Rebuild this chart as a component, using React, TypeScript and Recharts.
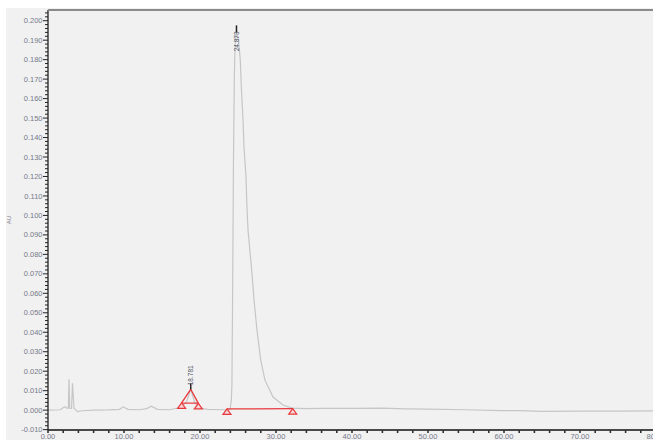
import React from 'react'
import { ComposedChart, Line, Scatter, XAxis, YAxis } from 'recharts'

// chromatogram trace, minutes vs AU
const trace = [
    { t: 0.0, au: 0.0 },
    { t: 1.6, au: 0.0002 },
    { t: 2.2, au: 0.0018 },
    { t: 2.5, au: 0.001 },
    { t: 2.68, au: 0.001 },
    { t: 2.76, au: 0.0158 },
    { t: 2.86, au: 0.001 },
    { t: 3.1, au: 0.0009 },
    { t: 3.22, au: 0.0138 },
    { t: 3.42, au: 0.001 },
    { t: 3.9, au: -0.0008 },
    { t: 4.5, au: -0.0003 },
    { t: 6.0, au: 0.0 },
    { t: 8.0, au: 0.0001 },
    { t: 9.4, au: 0.0004 },
    { t: 9.9, au: 0.0017 },
    { t: 10.5, au: 0.0004 },
    { t: 12.0, au: 0.0002 },
    { t: 13.0, au: 0.0008 },
    { t: 13.6, au: 0.002 },
    { t: 14.4, au: 0.0004 },
    { t: 16.0, au: 0.0002 },
    { t: 17.5, au: 0.0015 },
    { t: 18.2, au: 0.004 },
    { t: 18.78, au: 0.0107 },
    { t: 19.3, au: 0.004 },
    { t: 19.9, au: 0.0012 },
    { t: 21.0, au: 0.0004 },
    { t: 23.0, au: 0.0002 },
    { t: 23.95, au: 0.0003 },
    { t: 24.12, au: 0.005 },
    { t: 24.2, au: 0.013 },
    { t: 24.3, au: 0.064 },
    { t: 24.4, au: 0.126 },
    { t: 24.52, au: 0.172 },
    { t: 24.62, au: 0.188 },
    { t: 24.8, au: 0.194 },
    { t: 25.05, au: 0.19 },
    { t: 25.3, au: 0.18 },
    { t: 25.45, au: 0.165 },
    { t: 25.66, au: 0.149 },
    { t: 25.79, au: 0.135 },
    { t: 26.05, au: 0.12 },
    { t: 26.18, au: 0.104 },
    { t: 26.32, au: 0.0924 },
    { t: 26.8, au: 0.0719 },
    { t: 27.11, au: 0.0565 },
    { t: 27.5, au: 0.041 },
    { t: 27.99, au: 0.0257 },
    { t: 28.55, au: 0.0154 },
    { t: 29.61, au: 0.0067 },
    { t: 30.92, au: 0.0026 },
    { t: 32.11, au: 0.001 },
    { t: 34.0, au: 0.0008 },
    { t: 36.0, au: 0.0009 },
    { t: 40.0, au: 0.0009 },
    { t: 44.0, au: 0.001 },
    { t: 47.0, au: 0.0007 },
    { t: 50.0, au: 0.0005 },
    { t: 55.0, au: 0.0002 },
    { t: 59.5, au: -0.0003 },
    { t: 62.0, au: -0.0003 },
    { t: 65.0, au: -0.0006 },
    { t: 70.0, au: -0.0005 },
    { t: 75.0, au: -0.0005 },
    { t: 80.0, au: -0.0004 },
    { t: 86.0, au: -0.0004 },
]

// integration marks
const smallPeakOutline = [
    { t: 17.58, au: 0.0037 },
    { t: 18.78, au: 0.0107 },
    { t: 19.78, au: 0.0035 },
]
const smallPeakBaseline = [
    { t: 17.58, au: 0.0036 },
    { t: 19.78, au: 0.0036 },
]
const mainPeakBaseline = [
    { t: 23.55, au: 0.0006 },
    { t: 32.2, au: 0.0008 },
]
const peakMarkers = [
    { t: 17.58, au: 0.0037 },
    { t: 19.78, au: 0.0035 },
    { t: 23.55, au: 0.0006 },
    { t: 32.2, au: 0.0008 },
]
const peakLabels = [
    { t: 18.78, au: 0.0107, name: '18.781' },
    { t: 24.8, au: 0.194, name: '24.873' },
]

const xLabels = [0, 10, 20, 30, 40, 50, 60, 70, 80]
const yLabels = [
    -0.01, 0, 0.01, 0.02, 0.03, 0.04, 0.05, 0.06, 0.07, 0.08, 0.09, 0.1,
    0.11, 0.12, 0.13, 0.14, 0.15, 0.16, 0.17, 0.18, 0.19, 0.2,
]

const xMinorStep = 2
const yMinorStep = 0.002
const xTicks: number[] = []
for (let i = 0; i * xMinorStep <= 84; i++) xTicks.push(i * xMinorStep)
const yTicks: number[] = []
for (let i = -5; i * yMinorStep <= 0.2051; i++) yTicks.push(+(i * yMinorStep).toFixed(4))

const labelColor = '#767a8a'
const font = '"Liberation Sans", Arial, sans-serif'

const isLabel = (list: number[], v: number) => list.some((l) => Math.abs(l - v) < 1e-6)

const YTick = (props: any) => {
    const { x, y, payload } = props
    const v = payload.value
    const major = isLabel(yLabels, v)
    return (
        <g>
            <line x1={x - (major ? 5 : 3)} x2={x} y1={y} y2={y} stroke="#222" strokeWidth={1} />
            {major && (
                <text x={x - 5.5} y={y} dy={2.6} textAnchor="end" fontSize={7.5} fill={labelColor} fontFamily={font}>
                    {v.toFixed(3)}
                </text>
            )}
        </g>
    )
}

const XTick = (props: any) => {
    const { x, y, payload } = props
    const v = payload.value
    const major = isLabel(xLabels, v)
    return (
        <g>
            <line x1={x} x2={x} y1={y} y2={y + 3} stroke="#333" strokeWidth={1.6} />
            {major && (
                <text x={x} y={y + 8.5} textAnchor="middle" fontSize={7.5} fill={labelColor} fontFamily={font}>
                    {v.toFixed(2)}
                </text>
            )}
        </g>
    )
}

const Triangle = (props: any) => {
    const { cx, cy } = props
    return (
        <polygon
            points={`${cx},${cy} ${cx - 4},${cy + 5.5} ${cx + 4},${cy + 5.5}`}
            fill="#f6d6d6"
            stroke="#e8383d"
            strokeWidth={1.2}
        />
    )
}

const PeakLabel = (props: any) => {
    const { cx, cy, payload } = props
    // no room above the tall peak, so its label sits under the apex tick
    const below = cy < 60
    const tickTop = below ? cy - 7 : cy - 6
    const ty = below ? cy + 9 : cy - 14
    return (
        <g>
            <line x1={cx} x2={cx} y1={tickTop} y2={cy} stroke="#222" strokeWidth={1.5} />
            <text
                x={cx}
                y={ty}
                dy={2.2}
                textAnchor="middle"
                fontSize={6.5}
                fill="#4c5060"
                fontFamily={font}
                transform={`rotate(-90 ${cx} ${ty})`}
            >
                {payload.name}
            </text>
        </g>
    )
}

const App = () => {
    return (
        <div style={{ position: 'fixed', left: 0, top: 0, width: 653, height: 440, overflow: 'hidden', background: '#fff' }}>
            <div style={{ position: 'absolute', left: 6, top: 8, right: 0, bottom: 0, background: '#f1f1f1' }} />
            <div style={{ position: 'absolute', left: 0, top: 0 }}>
                <ComposedChart width={700} height={440} margin={{ top: 10, right: 0, left: 0, bottom: 0 }}>
                    <XAxis
                        dataKey="t"
                        type="number"
                        domain={[0, 85.79]}
                        allowDataOverflow
                        ticks={xTicks}
                        interval={0}
                        tick={<XTick />}
                        tickLine={false}
                        tickSize={0}
                        tickMargin={0}
                        height={10}
                        axisLine={{ stroke: '#111', strokeWidth: 1.5 }}
                    />
                    <YAxis
                        type="number"
                        domain={[-0.0102, 0.2055]}
                        allowDataOverflow
                        ticks={yTicks}
                        interval={0}
                        tick={<YTick />}
                        tickLine={false}
                        tickSize={0}
                        tickMargin={0}
                        width={48}
                        axisLine={{ stroke: '#111', strokeWidth: 1.2 }}
                    />
                    <Line data={trace} dataKey="au" type="linear" stroke="#c6c6c6" strokeWidth={1.2} dot={false} isAnimationActive={false} />
                    <Line data={smallPeakOutline} dataKey="au" type="linear" stroke="#e8383d" strokeWidth={1.3} dot={false} isAnimationActive={false} />
                    <Line data={smallPeakBaseline} dataKey="au" type="linear" stroke="#e8383d" strokeWidth={1.2} dot={false} isAnimationActive={false} />
                    <Line data={mainPeakBaseline} dataKey="au" type="linear" stroke="#e8383d" strokeWidth={1.2} dot={false} isAnimationActive={false} />
                    <Scatter data={peakMarkers} dataKey="au" shape={<Triangle />} isAnimationActive={false} />
                    <Scatter data={peakLabels} dataKey="au" shape={<PeakLabel />} isAnimationActive={false} />
                </ComposedChart>
            </div>
            <svg width={653} height={440} style={{ position: 'absolute', left: 0, top: 0, pointerEvents: 'none' }}>
                <line x1={48} x2={653} y1={10} y2={10} stroke="#8a8a8a" strokeWidth={2} />
                <text x={11} y={220} textAnchor="middle" fontSize={6} fill={labelColor} fontFamily={font} transform="rotate(-90 11 220)">
                    AU
                </text>
                <text x={336} y={446} fontSize={8} fill={labelColor} fontFamily={font}>
                    Minutes
                </text>
            </svg>
        </div>
    )
}

export default App
